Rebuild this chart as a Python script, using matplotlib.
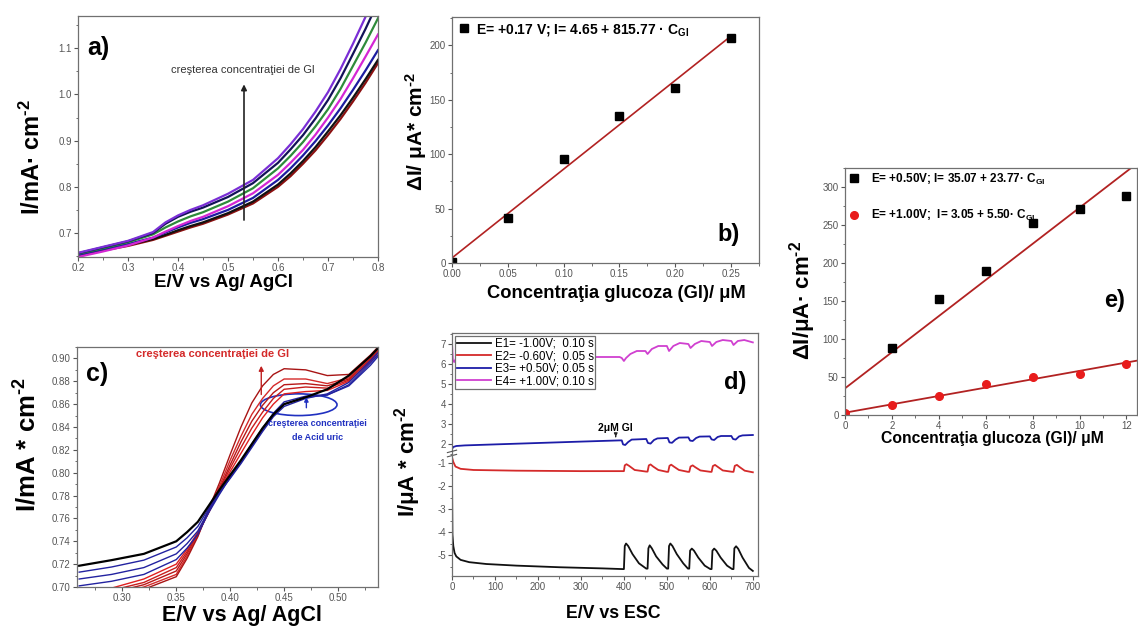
import numpy as np
import matplotlib
matplotlib.use('Agg')
import matplotlib.pyplot as plt
from matplotlib.ticker import MultipleLocator, FormatStrFormatter
from matplotlib.patches import Ellipse

#=======================================================
# Fonts
#=======================================================

plt.rcParams['font.family'] = ['Liberation Sans', 'DejaVu Sans']
plt.rcParams['mathtext.fontset'] = 'custom'
plt.rcParams['mathtext.rm'] = 'Liberation Sans:bold'
plt.rcParams['mathtext.it'] = 'Liberation Sans:bold'
plt.rcParams['mathtext.bf'] = 'Liberation Sans:bold'

SUP = r'$^{\text{-2}}$'
SUB = r'$_{\text{Gl}}$'

#=======================================================
# Data
#=======================================================

# a) voltammograms, increasing glucose
a_E = [0.20, 0.25, 0.30, 0.35, 0.375, 0.40, 0.425, 0.45, 0.50, 0.55, 0.60, 0.625,
       0.65, 0.675, 0.70, 0.725, 0.75, 0.775, 0.80]
a_curves = [
    ('#8b1010', [0.650, 0.662, 0.672, 0.685, 0.694, 0.703, 0.712, 0.720, 0.740, 0.764, 0.800, 0.823,
                 0.850, 0.879, 0.912, 0.947, 0.985, 1.025, 1.068]),
    ('#111111', [0.651, 0.663, 0.674, 0.687, 0.696, 0.706, 0.715, 0.723, 0.743, 0.768, 0.805, 0.829,
                 0.856, 0.886, 0.920, 0.955, 0.993, 1.033, 1.075]),
    ('#1c1ca0', [0.653, 0.665, 0.676, 0.690, 0.701, 0.712, 0.722, 0.730, 0.750, 0.776, 0.815, 0.840,
                 0.868, 0.899, 0.933, 0.970, 1.010, 1.052, 1.096]),
    ('#d426d4', [0.648, 0.660, 0.673, 0.690, 0.703, 0.715, 0.726, 0.735, 0.758, 0.786, 0.826, 0.852,
                 0.880, 0.913, 0.950, 0.990, 1.035, 1.082, 1.130]),
    ('#2e8b3a', [0.655, 0.667, 0.680, 0.697, 0.712, 0.725, 0.736, 0.745, 0.768, 0.797, 0.840, 0.867,
                 0.897, 0.931, 0.968, 1.012, 1.062, 1.112, 1.165]),
    ('#121258', [0.656, 0.669, 0.682, 0.700, 0.720, 0.735, 0.746, 0.755, 0.778, 0.808, 0.852, 0.881,
                 0.912, 0.948, 0.988, 1.035, 1.088, 1.142, 1.200]),
    ('#7a2ed6', [0.657, 0.670, 0.683, 0.702, 0.723, 0.738, 0.750, 0.760, 0.785, 0.815, 0.862, 0.892,
                 0.925, 0.963, 1.005, 1.055, 1.110, 1.168, 1.230]),
]

# b) calibration at +0.17 V
b_conc = [0.00, 0.05, 0.10, 0.15, 0.20, 0.25]
b_dI = [1, 41, 96, 135, 161, 207]
b_fit = (4.65, 815.77)

# c) voltammograms, glucose + uric acid
c_E = [0.26, 0.29, 0.32, 0.35, 0.36, 0.37, 0.38, 0.39, 0.40, 0.41, 0.42, 0.43, 0.44,
       0.45, 0.47, 0.49, 0.51, 0.53, 0.54]
c_black = [0.7186, 0.7235, 0.729, 0.740, 0.748, 0.757, 0.771, 0.785, 0.798, 0.811, 0.825, 0.839, 0.851,
           0.860, 0.866, 0.873, 0.885, 0.902, 0.912]
c_blue = [
    [0.713, 0.7175, 0.7235, 0.735, 0.743, 0.753, 0.769, 0.783, 0.795, 0.808, 0.822, 0.836, 0.849,
     0.858, 0.865, 0.869, 0.879, 0.898, 0.908],
    [0.707, 0.711, 0.717, 0.729, 0.738, 0.749, 0.767, 0.782, 0.796, 0.809, 0.823, 0.837, 0.850,
     0.860, 0.866, 0.868, 0.877, 0.896, 0.906],
    [0.701, 0.705, 0.711, 0.724, 0.734, 0.746, 0.765, 0.781, 0.796, 0.810, 0.825, 0.839, 0.852,
     0.862, 0.867, 0.868, 0.876, 0.894, 0.905],
]
c_red = [
    [0.695, 0.699, 0.707, 0.720, 0.733, 0.748, 0.765, 0.784, 0.801, 0.817, 0.833, 0.848, 0.860,
     0.869, 0.871, 0.872, 0.880, 0.897, 0.908],
    [0.692, 0.697, 0.704, 0.717, 0.731, 0.747, 0.765, 0.785, 0.804, 0.822, 0.839, 0.853, 0.865,
     0.873, 0.875, 0.874, 0.881, 0.899, 0.909],
    [0.690, 0.695, 0.702, 0.714, 0.729, 0.746, 0.766, 0.786, 0.807, 0.827, 0.845, 0.859, 0.870,
     0.877, 0.878, 0.876, 0.882, 0.900, 0.910],
    [0.688, 0.693, 0.700, 0.711, 0.727, 0.745, 0.767, 0.788, 0.811, 0.832, 0.851, 0.865, 0.876,
     0.882, 0.882, 0.878, 0.883, 0.901, 0.911],
    [0.686, 0.691, 0.698, 0.709, 0.725, 0.744, 0.768, 0.791, 0.816, 0.840, 0.861, 0.876, 0.886,
     0.891, 0.890, 0.885, 0.886, 0.903, 0.913],
]
c_red_colors = ['#e02020', '#c81c1c', '#b81818', '#d42a2a', '#a81414']

# d) amperometry, four pulse potentials
d_t1 = [0, 1, 3, 6, 10, 20, 40, 80, 150, 250, 350, 397,
        400, 402, 405, 410, 420, 435, 452,
        455, 457, 460, 465, 475, 490, 500,
        503, 505, 508, 513, 523, 538, 549,
        552, 554, 558, 563, 573, 588, 601,
        604, 606, 610, 615, 625, 640, 652,
        655, 657, 661, 666, 676, 691, 700]
d_I1 = [-1.5, -4.1, -4.6, -4.9, -5.05, -5.2, -5.3, -5.38, -5.45, -5.52, -5.57, -5.6,
        -5.6, -4.6, -4.49, -4.6, -4.95, -5.35, -5.58,
        -5.58, -4.7, -4.57, -4.7, -5.05, -5.4, -5.58,
        -5.58, -4.6, -4.49, -4.6, -4.95, -5.35, -5.58,
        -5.58, -4.8, -4.71, -4.8, -5.1, -5.45, -5.6,
        -5.6, -4.8, -4.71, -4.8, -5.1, -5.45, -5.6,
        -5.6, -4.7, -4.61, -4.72, -5.1, -5.55, -5.68]
d_t2 = [0, 3, 8, 20, 50, 150, 300, 397,
        400, 402, 406, 412, 425, 452,
        455, 458, 462, 468, 480, 500,
        503, 506, 510, 516, 528, 549,
        552, 555, 560, 566, 578, 601,
        604, 607, 612, 618, 630, 652,
        655, 658, 663, 669, 681, 700]
d_I2 = [-0.75, -0.95, -1.15, -1.25, -1.3, -1.33, -1.35, -1.35,
        -1.35, -1.1, -1.05, -1.12, -1.3, -1.37,
        -1.37, -1.1, -1.06, -1.15, -1.3, -1.38,
        -1.38, -1.12, -1.07, -1.15, -1.3, -1.38,
        -1.38, -1.15, -1.1, -1.18, -1.32, -1.38,
        -1.38, -1.13, -1.08, -1.16, -1.32, -1.38,
        -1.38, -1.12, -1.08, -1.17, -1.33, -1.4]
d_t3 = [0, 3, 10, 30, 100, 200, 300, 390, 395, 398, 403, 410, 418,
        452, 456, 462, 470, 478, 502, 506, 512, 520, 528,
        550, 554, 560, 568, 576, 600, 604, 610, 618, 626,
        650, 654, 660, 668, 676, 700]
d_I3 = [1.75, 1.85, 1.9, 1.93, 1.98, 2.05, 2.12, 2.18, 2.18, 1.98, 1.95, 2.1, 2.22,
        2.25, 2.05, 2.02, 2.2, 2.28, 2.3, 2.08, 2.06, 2.22, 2.32,
        2.33, 2.17, 2.15, 2.3, 2.37, 2.38, 2.23, 2.2, 2.35, 2.4,
        2.4, 2.25, 2.22, 2.38, 2.43, 2.45]
d_t4 = [0, 2, 5, 10, 20, 100, 200, 300, 390, 395, 400, 405, 415, 430,
        450, 455, 465, 480, 500, 505, 515, 530, 550, 555, 565, 580,
        600, 605, 615, 630, 650, 655, 665, 680, 700]
d_I4 = [7.05, 6.2, 6.1, 6.3, 6.35, 6.35, 6.35, 6.35, 6.35, 6.3, 6.15, 6.3, 6.5, 6.65,
        6.65, 6.5, 6.75, 6.9, 6.9, 6.65, 6.9, 7.05, 7.0, 6.8, 7.0, 7.15,
        7.1, 6.9, 7.1, 7.2, 7.15, 6.95, 7.15, 7.2, 7.08]
d_labels = ['E1= -1.00V;  0.10 s', 'E2= -0.60V;  0.05 s',
            'E3= +0.50V; 0.05 s', 'E4= +1.00V; 0.10 s']
d_colors = ['#111111', '#d42a2a', '#1c1ca8', '#d040d0']

# e) calibration at +0.50 V and +1.00 V
e_conc = [2, 4, 6, 8, 10, 12]
e_dI_050 = [88, 153, 189, 253, 271, 288]
e_conc_100 = [0, 2, 4, 6, 8, 10, 12]
e_dI_100 = [3, 13, 25, 41, 50, 54, 67]
e_fit_050 = (35.07, 23.77)
e_fit_100 = (3.05, 5.50)

#=======================================================
# Layout helpers
#=======================================================

W, H = 1138, 626
fig = plt.figure(figsize=(W / 100, H / 100), dpi=100)

def box(l, t, r, b):
    return [l / W, 1 - b / H, (r - l) / W, (b - t) / H]

def ftext(x, y, s, **kw):
    fig.text(x / W, 1 - y / H, s, ha='center', va='center', fontweight='bold', **kw)

def style(ax, xmaj, xmin, ymaj, ymin):
    for sp in ax.spines.values():
        sp.set_color('#707070')
        sp.set_linewidth(0.9)
    ax.xaxis.set_major_locator(MultipleLocator(xmaj))
    ax.xaxis.set_minor_locator(MultipleLocator(xmin))
    ax.yaxis.set_major_locator(MultipleLocator(ymaj))
    ax.yaxis.set_minor_locator(MultipleLocator(ymin))
    ax.tick_params(which='both', direction='out', colors='#555555', labelsize=7,
                   top=False, right=False, pad=1.5)
    ax.tick_params(which='major', length=3)
    ax.tick_params(which='minor', length=1.8)

fit_color = '#b22222'

#=======================================================
# a)
#=======================================================

ax = fig.add_axes(box(78, 16, 378, 257))
for col, ys in a_curves:
    ax.plot(a_E, ys, color=col, lw=1.6)
ax.set_xlim(0.2, 0.8)
ax.set_ylim(0.648, 1.17)
style(ax, 0.1, 0.05, 0.1, 0.05)
ax.xaxis.set_major_formatter(FormatStrFormatter('%.1f'))
ax.annotate('', xy=(0.532, 1.028), xytext=(0.532, 0.722),
            arrowprops=dict(arrowstyle='-|>', color='#222222', lw=1.2, mutation_scale=8))
ax.text(0.53, 1.053, 'creşterea concentraţiei de Gl', ha='center', va='center',
        fontsize=8, color='#333333')
ax.text(0.218, 1.1, 'a)', fontsize=18, fontweight='bold', va='center')
ftext(32, 157, 'I/mA· cm' + SUP, fontsize=17, rotation=90)
ftext(223, 283, 'E/V vs Ag/ AgCl', fontsize=13.5)

#=======================================================
# b)
#=======================================================

ax = fig.add_axes(box(452, 17, 759, 263))
cx = np.array([0, 0.25])
ax.plot(cx, b_fit[0] + b_fit[1] * cx, color=fit_color, lw=1.2)
ax.plot(b_conc, b_dI, 's', color='black', ms=6,
        label='E= +0.17 V; I= 4.65 + 815.77 · C' + SUB)
ax.set_xlim(0, 0.275)
ax.set_ylim(0, 226)
style(ax, 0.05, 0.025, 50, 25)
ax.xaxis.set_major_formatter(FormatStrFormatter('%.2f'))
ax.legend(loc='upper left', frameon=False, prop=dict(size=10, weight='bold'),
          handletextpad=0.4, borderaxespad=0.15, borderpad=0.2, handlelength=1.0)
ax.text(0.2475, 26, 'b)', fontsize=17, fontweight='bold', ha='center', va='center')
ftext(416, 132, 'ΔI/ μA* cm' + SUP, fontsize=15, rotation=90)
ftext(616, 294, 'Concentraţia glucoza (Gl)/ μM', fontsize=13.2)

#=======================================================
# c)
#=======================================================

ax = fig.add_axes(box(77, 347, 378, 587))
for ys, col in zip(c_red, c_red_colors):
    ax.plot(c_E, ys, color=col, lw=1.0)
for ys in c_blue:
    ax.plot(c_E, ys, color='#2222a0', lw=1.0)
ax.plot(c_E, c_black, color='black', lw=1.6)
ax.set_xlim(0.258, 0.537)
ax.set_ylim(0.70, 0.91)
style(ax, 0.05, 0.025, 0.02, 0.01)
ax.xaxis.set_major_formatter(FormatStrFormatter('%.2f'))
ax.yaxis.set_major_formatter(FormatStrFormatter('%.2f'))
ax.text(0.384, 0.904, 'creşterea concentraţiei de Gl', ha='center', va='center',
        fontsize=8, fontweight='bold', color='#d42a2a')
ax.annotate('', xy=(0.4288, 0.896), xytext=(0.4288, 0.866),
            arrowprops=dict(arrowstyle='-|>', color='#c02020', lw=1.0, mutation_scale=7))
ax.add_patch(Ellipse((0.4635, 0.8595), 0.071, 0.019, fill=False, ec='#2030c0', lw=1.2))
ax.annotate('', xy=(0.4706, 0.8685), xytext=(0.4706, 0.8544),
            arrowprops=dict(arrowstyle='-|>', color='#2030c0', lw=1.0, mutation_scale=6))
ax.text(0.481, 0.8428, 'creşterea concentraţiei', ha='center', va='center',
        fontsize=6.5, fontweight='bold', color='#2030c0')
ax.text(0.481, 0.8306, 'de Acid uric', ha='center', va='center',
        fontsize=6.5, fontweight='bold', color='#2030c0')
ax.text(0.266, 0.886, 'c)', fontsize=18, fontweight='bold', va='center')
ftext(28, 445, 'I/mA * cm' + SUP, fontsize=18.5, rotation=90)
ftext(242, 616, 'E/V vs Ag/ AgCl', fontsize=15.5)

#=======================================================
# d)
#=======================================================

axu = fig.add_axes(box(452, 333, 758, 455))
axl = fig.add_axes(box(452, 455, 758, 576))
series = [(d_t1, d_I1), (d_t2, d_I2), (d_t3, d_I3), (d_t4, d_I4)]
handles = []
for (t, I), col, lab in zip(series, d_colors, d_labels):
    h, = axl.plot(t, I, color=col, lw=1.3, label=lab)
    axu.plot(t, I, color=col, lw=1.3)
    handles.append(h)
for a_ in (axu, axl):
    a_.set_xlim(0, 712)
axu.set_ylim(1.45, 7.55)
axl.set_ylim(-5.9, -0.65)
style(axu, 100, 50, 1, 0.5)
style(axl, 100, 50, 1, 0.5)
axu.spines['bottom'].set_visible(False)
axl.spines['top'].set_visible(False)
axu.tick_params(which='both', bottom=False, labelbottom=False)
axu.yaxis.set_major_formatter(FormatStrFormatter('%d'))
axl.yaxis.set_major_formatter(FormatStrFormatter('%d'))
for dy in (0.0, 0.035):
    axl.plot([-0.015, 0.015], [0.985 + dy, 1.005 + dy], transform=axl.transAxes,
             color='#555555', lw=0.8, clip_on=False)
leg = axu.legend(handles=handles, loc='upper left', fontsize=8.3, frameon=True, fancybox=False,
                 framealpha=1, edgecolor='#707070', borderpad=0.15, labelspacing=0.05,
                 handlelength=3.0, handletextpad=0.3, borderaxespad=0.25)
leg.get_frame().set_linewidth(0.9)
axu.annotate('', xy=(381, 2.22), xytext=(381, 2.5),
             arrowprops=dict(arrowstyle='-|>', color='#222222', lw=0.8, mutation_scale=5))
axu.text(381, 2.8, '2μM Gl', ha='center', va='center', fontsize=7.5, fontweight='bold')
axu.text(658, 5.05, 'd)', fontsize=17, fontweight='bold', ha='center', va='center')
ftext(408, 462, 'I/μA * cm' + SUP, fontsize=16, rotation=90)
ftext(613, 613, 'E/V vs ESC', fontsize=12.8)

#=======================================================
# e)
#=======================================================

ax = fig.add_axes(box(845, 168, 1137, 415))
cx = np.array([0, 12.45])
ax.plot(cx, e_fit_050[0] + e_fit_050[1] * cx, color=fit_color, lw=1.3)
ax.plot(cx, e_fit_100[0] + e_fit_100[1] * cx, color=fit_color, lw=1.3)
ax.plot(e_conc, e_dI_050, 's', color='black', ms=5.5,
        label='E= +0.50V; I= 35.07 + 23.77· C' + SUB)
ax.plot(e_conc_100, e_dI_100, 'o', color='#e81c1c', ms=5.5,
        label='E= +1.00V;  I= 3.05 + 5.50· C' + SUB)
ax.set_xlim(0, 12.45)
ax.set_ylim(0, 325)
style(ax, 2, 1, 50, 25)
ax.legend(loc='upper left', frameon=False, prop=dict(size=8.5, weight='bold'),
          handletextpad=0.9, labelspacing=1.8, borderaxespad=0.1, borderpad=0.2,
          handlelength=1.0)
ax.text(11.5, 150, 'e)', fontsize=17, fontweight='bold', ha='center', va='center')
ftext(803, 300, 'ΔI/μA· cm' + SUP, fontsize=16, rotation=90)
ftext(992, 439, 'Concentraţia glucoza (Gl)/ μM', fontsize=11.3)

plt.savefig('out.png', dpi=100)
